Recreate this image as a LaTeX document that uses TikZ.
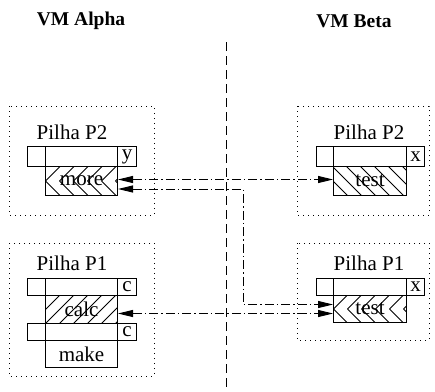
\documentclass[tikz,border=0pt]{standalone}
\usepackage{fontspec}
\setmainfont{Liberation Serif}
\usetikzlibrary{arrows.meta}
\begin{document}
\begin{tikzpicture}[x=1pt, y=-1pt, line width=1pt,
  cell/.style={draw, inner sep=0pt, anchor=north west, font=\fontsize{21}{24}\selectfont},
  label/.style={font=\fontsize{21}{24}\selectfont},
  title/.style={font=\fontsize{19.5}{22}\selectfont\bfseries},
  stack/.style={dash pattern=on 1pt off 4pt},
  link/.style={dash pattern=on 9pt off 3pt on 1.5pt off 3pt,
    {Triangle[length=15pt,width=7pt]}-{Triangle[length=15pt,width=7pt]}},
  chevrons/.style={path picture={
    \foreach \i in {0,...,5} {
      \draw[line width=0.8pt] ([xshift=\i*14pt]path picture bounding box.west) -- ++(16,-16)
        ([xshift=\i*14pt]path picture bounding box.west) -- ++(16,16);
    }}},
  neline/.style={path picture={
    \foreach \i in {-2,...,5} {
      \draw[line width=0.8pt] ([xshift=\i*14pt]path picture bounding box.south west) -- ++(32,-32);
    }}},
  nwline/.style={path picture={
    \foreach \i in {0,...,8} {
      \draw[line width=0.8pt] ([xshift=\i*14pt]path picture bounding box.south west) -- ++(-32,-32);
    }}}]
  \useasboundingbox (0,0) rectangle (435,391);
  % as duas maquinas e a fronteira
  \node[title] (alpha) at (81,21) {VM Alpha};
  \node[title] (beta) at (354,21) {VM Beta};
  \draw[dash pattern=on 9pt off 5pt] (226,42) -- (226,391);
  % pilhas da VM Alpha
  \draw[stack] (9,106) rectangle (154,215);
  \node[label] (pa2) at (72,132) {Pilha P2};
  \node[cell, minimum width=18, minimum height=20] (a2a) at (27,146) {};
  \node[cell, minimum width=72, minimum height=20] (a2b) at (45,146) {};
  \node[cell, minimum width=19, minimum height=20] (a2c) at (117,146) {y};
  \node[cell, chevrons, minimum width=72, minimum height=29] (more) at (45,166) {more};
  \draw[stack] (9,243) rectangle (154,376);
  \node[label] (pa1) at (72,263) {Pilha P1};
  \node[cell, minimum width=18, minimum height=17] (a1a) at (27,278) {};
  \node[cell, minimum width=72, minimum height=17] (a1b) at (45,278) {};
  \node[cell, minimum width=19, minimum height=17] (a1c) at (117,278) {c};
  \node[cell, neline, minimum width=72, minimum height=28] (calc) at (45,295) {calc};
  \node[cell, minimum width=18, minimum height=17] (a1d) at (27,323) {};
  \node[cell, minimum width=72, minimum height=17] (a1e) at (45,323) {};
  \node[cell, minimum width=19, minimum height=17] (a1f) at (117,323) {c};
  \node[cell, minimum width=72, minimum height=27] (make) at (45,340) {make};
  % pilhas da VM Beta
  \draw[stack] (297,106) rectangle (429,215);
  \node[label] (pb2) at (369,132) {Pilha P2};
  \node[cell, minimum width=17, minimum height=20] (b2a) at (316,146) {};
  \node[cell, minimum width=73, minimum height=20] (b2b) at (333,146) {};
  \node[cell, minimum width=18, minimum height=20] (b2c) at (406,146) {x};
  \node[cell, nwline, minimum width=73, minimum height=29] (testb2) at (333,166) {test};
  \draw[stack] (297,243) rectangle (429,340);
  \node[label] (pb1) at (369,263) {Pilha P1};
  \node[cell, minimum width=17, minimum height=17] (b1a) at (316,278) {};
  \node[cell, minimum width=73, minimum height=17] (b1b) at (333,278) {};
  \node[cell, minimum width=18, minimum height=17] (b1c) at (406,278) {x};
  \node[cell, chevrons, minimum width=73, minimum height=27] (testb1) at (333,295) {test};
  % ligacoes entre as pilhas
  \coordinate (m2) at ([yshift=-8pt]more.east);
  \coordinate (t1) at ([yshift=4.5pt]testb1.west);
  \coordinate (bend) at (243,0);
  \draw[link] ([yshift=1.5pt]more.east) -- ([yshift=1.5pt]testb2.west);
  \draw[link] (m2) -- (m2 -| bend) -- (t1 -| bend) -- (t1);
  \draw[link] ([yshift=-4pt]calc.east) -- ([yshift=-4pt]calc.east -| testb1.west);
\end{tikzpicture}
\end{document}
